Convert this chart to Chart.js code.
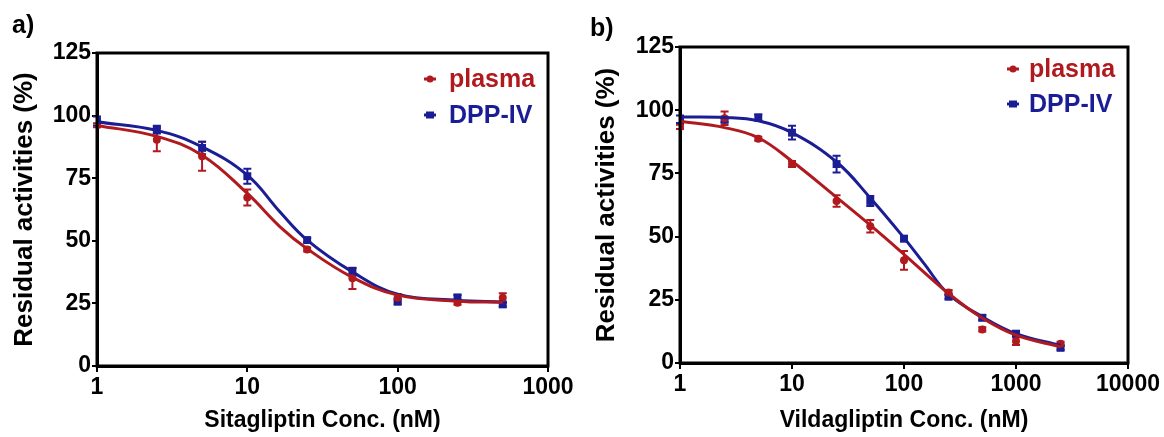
<!DOCTYPE html>
<html>
<head>
<meta charset="utf-8">
<script src="https://cdn.jsdelivr.net/npm/chart.js@4.4.1/dist/chart.umd.min.js"></script>
<style>
  body { margin: 0; background: #fff; }
  #wrap { position: relative; width: 1164px; height: 437px; font-family: "Liberation Sans", Arial, sans-serif; }
  canvas { position: absolute; top: 0; }
  .panel-tag { position: absolute; font-weight: bold; font-size: 25px; color: #000; line-height: 1; }
</style>
</head>
<body>
<div id="wrap">
  <canvas id="chartA" width="580" height="437" style="left:0"></canvas>
  <canvas id="chartB" width="584" height="437" style="left:580px"></canvas>
  <div class="panel-tag" style="left:12px;top:12px">a)</div>
  <div class="panel-tag" style="left:590px;top:15px">b)</div>
</div>
<script>
// ---- data: panel a (Sitagliptin) ----
const concA = [1, 2.5, 5, 10, 25, 50, 100, 250, 500];
const plasmaA = [96.1, 90.4, 83.8, 67.3, 46.5, 35.0, 27.3, 25.3, 27.3];
const plasmaErrA = [0.8, 4.6, 5.8, 3.2, 0.8, 4.2, 1.5, 0.8, 1.8];
const dppA = [97.8, 94.4, 87.1, 75.8, 50.3, 37.6, 25.7, 27.4, 24.6];
const dppErrA = [1.8, 1.5, 2.5, 3.0, 0.8, 1.5, 1.0, 1.0, 0.8];

// fitted curves
const plasmaFitXA = [1, 2.5, 5, 10, 16.5, 25, 50, 100, 250, 500];
const plasmaFitA = [96.1, 91.7, 84.2, 68.9, 55.6, 46.8, 35.4, 28.3, 25.9, 25.4];
const dppFitXA = [1, 2.5, 5, 10, 16.5, 25, 50, 100, 250, 500];
const dppFitA = [97.5, 94.1, 87.5, 76.2, 61.5, 50.3, 37.6, 28.7, 26.3, 25.6];

// ---- data: panel b (Vildagliptin) ----
const concB = [1, 2.5, 5, 10, 25, 50, 100, 250, 500, 1000, 2500];
const plasmaB = [93.4, 96.8, 88.7, 78.7, 64.1, 54.1, 40.6, 27.9, 13.3, 8.6, 7.6];
const plasmaErrB = [0.8, 2.7, 0.8, 1.2, 2.3, 2.5, 3.7, 1.0, 0.8, 1.5, 0.8];
const dppB = [96.4, 96.2, 97.1, 91.1, 78.7, 64.1, 49.2, 26.2, 17.9, 11.6, 6.0];
const dppErrB = [1.5, 1.0, 1.2, 2.7, 3.3, 2.0, 1.0, 0.8, 1.0, 1.0, 0.8];

const plasmaFitXB = [1, 2.5, 5, 10, 25, 50, 100, 250, 500, 1000, 2500];
const plasmaFitB = [95.6, 93.1, 89.1, 79.8, 65.5, 54.5, 43.0, 27.5, 17.8, 11.0, 6.4];
const dppFitXB = [1, 2.5, 5, 10, 25, 50, 100, 150, 250, 500, 1000, 2500];
const dppFitB = [97.3, 97.1, 95.8, 91.1, 79.5, 65.3, 49.5, 39.5, 27.2, 18.3, 11.6, 6.9];

// ---- axes ----
const yTicks = [0, 25, 50, 75, 100, 125];
const xTicksA = [1, 10, 100, 1000];
const xTicksB = [1, 10, 100, 1000, 10000];
const seriesNames = ["plasma", "DPP-IV"];
const yTitle = "Residual activities (%)";

const RED = "#b01a1e";
const BLUE = "#1b1d94";
const FONT = "'Liberation Sans', Arial, sans-serif";

function toPoints(xs, ys) {
  return xs.map((x, i) => ({ x: x, y: ys[i] }));
}

// error bars drawn from each dataset's errors array
const errorBarPlugin = {
  id: "errorBars",
  beforeDatasetsDraw(chart) {
    const ctx = chart.ctx;
    const xs = chart.scales.x;
    const ys = chart.scales.y;
    chart.data.datasets.forEach((ds) => {
      if (!ds.errors) return;
      ctx.save();
      ctx.strokeStyle = ds.borderColor;
      ctx.lineWidth = 2;
      ds.data.forEach((p, i) => {
        const err = ds.errors[i];
        const x = xs.getPixelForValue(p.x);
        const yTop = ys.getPixelForValue(p.y + err);
        const yBot = ys.getPixelForValue(p.y - err);
        ctx.beginPath();
        ctx.moveTo(x, yTop);
        ctx.lineTo(x, yBot);
        ctx.moveTo(x - 4, yTop);
        ctx.lineTo(x + 4, yTop);
        ctx.moveTo(x - 4, yBot);
        ctx.lineTo(x + 4, yBot);
        ctx.stroke();
      });
      ctx.restore();
    });
  },
};

// box round the plot area
const framePlugin = {
  id: "frame",
  afterDraw(chart) {
    const a = chart.chartArea;
    const ctx = chart.ctx;
    ctx.save();
    ctx.strokeStyle = "#000";
    ctx.lineWidth = 3;
    ctx.strokeRect(a.left, a.top, a.right - a.left, a.bottom - a.top);
    ctx.restore();
  },
};

// legend inside the top right corner
const insideLegendPlugin = {
  id: "insideLegend",
  afterDraw(chart, args, opts) {
    const ctx = chart.ctx;
    const a = chart.chartArea;
    ctx.save();
    opts.items.forEach((item, i) => {
      const baseY = a.top + opts.firstBaseline + i * opts.rowGap;
      const midY = baseY - 8;
      const x0 = a.right - opts.markerOffset;
      ctx.strokeStyle = item.color;
      ctx.fillStyle = item.color;
      ctx.lineWidth = 3;
      ctx.beginPath();
      ctx.moveTo(x0, midY);
      ctx.lineTo(x0 + 12, midY);
      ctx.stroke();
      if (item.style === "circle") {
        ctx.beginPath();
        ctx.arc(x0 + 6, midY, 3.5, 0, Math.PI * 2);
        ctx.fill();
      } else {
        ctx.fillRect(x0 + 2, midY - 3.5, 8, 7);
      }
      ctx.font = "bold 25px " + FONT;
      ctx.textBaseline = "alphabetic";
      ctx.textAlign = "left";
      ctx.fillText(item.text, a.right - opts.textOffset, baseY);
    });
    ctx.restore();
  },
};

function makePanel(canvasId, cfg) {
  const tickFont = { family: FONT, size: 23, weight: "bold" };
  return new Chart(document.getElementById(canvasId), {
    type: "scatter",
    data: {
      datasets: [
        {
          label: "plasma fit",
          data: toPoints(cfg.plasmaFitX, cfg.plasmaFit),
          showLine: true,
          borderColor: RED,
          borderWidth: 3,
          pointRadius: 0,
          tension: 0.4,
        },
        {
          label: "DPP-IV fit",
          data: toPoints(cfg.dppFitX, cfg.dppFit),
          showLine: true,
          borderColor: BLUE,
          borderWidth: 3,
          pointRadius: 0,
          tension: 0.4,
        },
        {
          label: seriesNames[0],
          data: toPoints(cfg.conc, cfg.plasma),
          errors: cfg.plasmaErr,
          borderColor: RED,
          backgroundColor: RED,
          pointStyle: "circle",
          pointRadius: 4,
          borderWidth: 0,
        },
        {
          label: seriesNames[1],
          data: toPoints(cfg.conc, cfg.dpp),
          errors: cfg.dppErr,
          borderColor: BLUE,
          backgroundColor: BLUE,
          pointStyle: "rect",
          pointRadius: 5.6,
          borderWidth: 0,
        },
      ],
    },
    options: {
      responsive: false,
      animation: false,
      layout: { padding: { left: 0, right: cfg.padRight, top: cfg.padTop, bottom: 0 } },
      plugins: {
        legend: { display: false },
        tooltip: { enabled: false },
        insideLegend: {
          items: [
            { text: seriesNames[0], color: RED, style: "circle" },
            { text: seriesNames[1], color: BLUE, style: "rect" },
          ],
          firstBaseline: cfg.legendTop,
          rowGap: cfg.legendGap,
          markerOffset: cfg.markerOffset,
          textOffset: 99,
        },
      },
      scales: {
        x: {
          type: "logarithmic",
          min: 1,
          max: cfg.xTicks[cfg.xTicks.length - 1],
          afterBuildTicks: (s) => {
            s.ticks = cfg.xTicks.map((v) => ({ value: v }));
          },
          afterFit: (s) => {
            s.height = cfg.xAxisHeight;
          },
          ticks: {
            color: "#000",
            font: tickFont,
            padding: 2,
            autoSkip: false,
            maxRotation: 0,
            callback: (v) => String(v),
          },
          grid: { drawOnChartArea: false, drawTicks: true, tickLength: 6, color: "#000", lineWidth: 2 },
          border: { display: true, color: "#000", width: 3 },
          title: {
            display: true,
            text: cfg.xTitle,
            color: "#000",
            font: { family: FONT, size: 23, weight: "bold" },
            padding: { top: 0, bottom: 3 },
          },
        },
        y: {
          min: 0,
          max: 125,
          afterBuildTicks: (s) => {
            s.ticks = yTicks.map((v) => ({ value: v }));
          },
          afterFit: (s) => {
            s.width = cfg.yAxisWidth;
          },
          ticks: { color: "#000", font: tickFont, padding: 1 },
          grid: { drawOnChartArea: false, drawTicks: true, tickLength: 5, color: "#000", lineWidth: 2 },
          border: { display: true, color: "#000", width: 3 },
          title: {
            display: true,
            text: yTitle,
            color: "#000",
            font: { family: FONT, size: 26, weight: "bold" },
            padding: { top: cfg.yTitlePad, bottom: 0 },
          },
        },
      },
    },
    plugins: [errorBarPlugin, framePlugin, insideLegendPlugin],
  });
}

makePanel("chartA", {
  conc: concA, plasma: plasmaA, plasmaErr: plasmaErrA, dpp: dppA, dppErr: dppErrA,
  plasmaFitX: plasmaFitXA, plasmaFit: plasmaFitA, dppFitX: dppFitXA, dppFit: dppFitA,
  xTicks: xTicksA, xTitle: "Sitagliptin Conc. (nM)",
  padRight: 32, padTop: 53, xAxisHeight: 71, yAxisWidth: 97, yTitlePad: 9,
  legendTop: 34, legendGap: 36, markerOffset: 124,
});

makePanel("chartB", {
  conc: concB, plasma: plasmaB, plasmaErr: plasmaErrB, dpp: dppB, dppErr: dppErrB,
  plasmaFitX: plasmaFitXB, plasmaFit: plasmaFitB, dppFitX: dppFitXB, dppFit: dppFitB,
  xTicks: xTicksB, xTitle: "Vildagliptin Conc. (nM)",
  padRight: 36, padTop: 47, xAxisHeight: 74, yAxisWidth: 100, yTitlePad: 11,
  legendTop: 30, legendGap: 35, markerOffset: 121,
});
</script>
</body>
</html>
